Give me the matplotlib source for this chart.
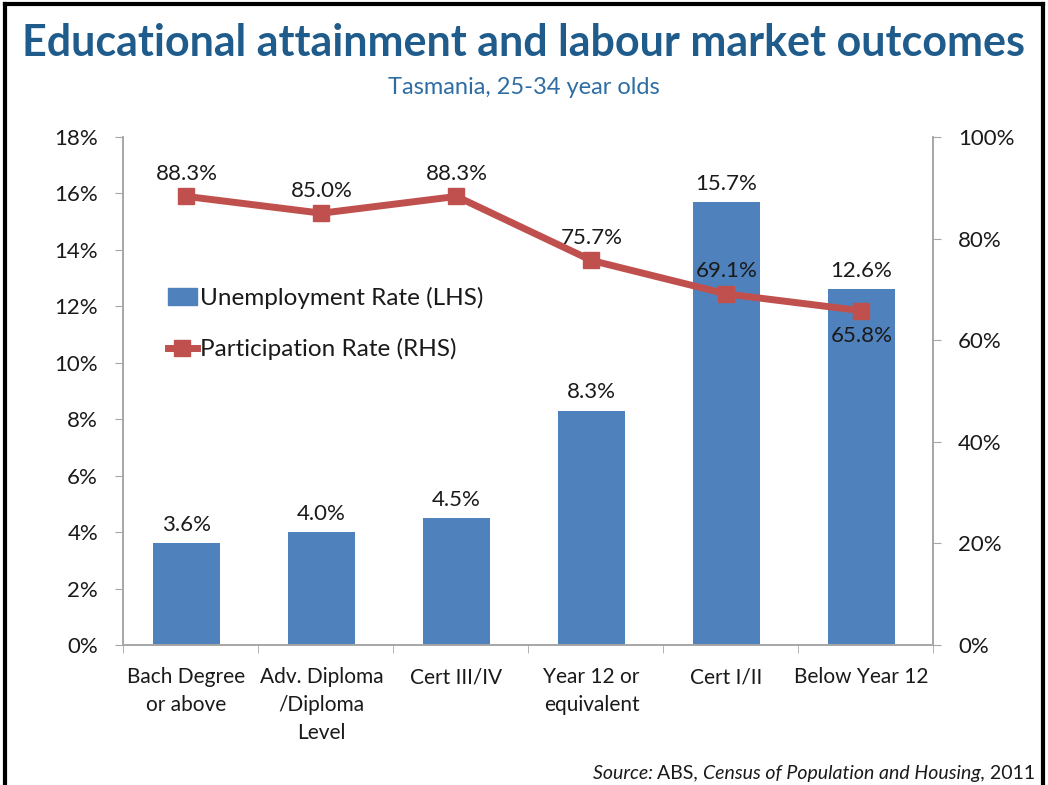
import matplotlib.pyplot as plt
from matplotlib.lines import Line2D
from matplotlib.ticker import FuncFormatter

plt.rcParams['font.family'] = ['Lato', 'DejaVu Sans']

categories = ['Bach Degree\nor above', 'Adv. Diploma\n/Diploma\nLevel', 'Cert III/IV',
              'Year 12 or\nequivalent', 'Cert I/II', 'Below Year 12']
unemployment = [3.6, 4.0, 4.5, 8.3, 15.7, 12.6]
participation = [88.3, 85.0, 88.3, 75.7, 69.1, 65.8]
# label placement for the participation points: above or below the marker
part_label_below = [False, False, False, False, False, True]

bar_color = '#4F81BD'
line_color = '#C0504D'
axis_gray = '#A6A6A6'
title_blue = '#1F5C8B'
text_color = '#1A1A1A'

fig = plt.figure(figsize=(10.48, 7.85), dpi=100)
ax = fig.add_axes([0.1174, 0.1783, 0.7729, 0.6472])
ax2 = ax.twinx()

x = list(range(len(categories)))
ax.bar(x, unemployment, width=0.5, color=bar_color, zorder=2)
ax.set_xlim(-0.47, len(categories) - 0.47)
ax.set_ylim(0, 18)
ax.set_yticks(range(0, 19, 2))
ax.yaxis.set_major_formatter(FuncFormatter(lambda v, p: f'{v:.0f}%'))

ax2.plot(x, participation, color=line_color, lw=5, marker='s', ms=11,
         solid_capstyle='round', zorder=3)
ax2.set_ylim(0, 100)
ax2.set_yticks(range(0, 101, 20))
ax2.yaxis.set_major_formatter(FuncFormatter(lambda v, p: f'{v:.0f}%'))

ax.set_xticks(x)
ax.set_xticklabels(categories, fontsize=15, color=text_color, linespacing=1.5)
ax.set_xticks([i - 0.47 for i in range(len(categories) + 1)], minor=True)
ax.tick_params(axis='x', which='major', length=0, pad=16)
ax.tick_params(axis='x', which='minor', length=6, color=axis_gray, direction='out')
ax.tick_params(axis='y', length=6, color=axis_gray, labelsize=16, labelcolor=text_color, pad=12)
ax2.tick_params(axis='y', length=6, color=axis_gray, labelsize=16, labelcolor=text_color, pad=12)

for a in (ax, ax2):
    a.spines['top'].set_visible(False)
    for s in ('left', 'right', 'bottom'):
        a.spines[s].set_color(axis_gray)
        a.spines[s].set_linewidth(1.2)

for xi, v in zip(x, unemployment):
    ax.annotate(f'{v:.1f}%', (xi, v), xytext=(0, 6), textcoords='offset points',
                ha='center', va='bottom', fontsize=16, color=text_color)

for xi, v, below in zip(x, participation, part_label_below):
    off = (0, -11) if below else (0, 9)
    ax2.annotate(f'{v:.1f}%', (xi, v), xytext=off, textcoords='offset points',
                 ha='center', va='top' if below else 'bottom', fontsize=16,
                 color=text_color, zorder=5)

handles = [plt.Rectangle((0, 0), 1, 1, color=bar_color),
           Line2D([], [], color=line_color, lw=5, marker='s', ms=11)]
ax.legend(handles, ['Unemployment Rate (LHS)', 'Participation Rate (RHS)'],
          loc='upper left', bbox_to_anchor=(0.028, 0.748), frameon=False, fontsize=17.5,
          labelspacing=1.2, handlelength=1.2, handleheight=0.7, handletextpad=0.12,
          labelcolor=text_color)

fig.text(0.5, 0.945, 'Educational attainment and labour market outcomes', ha='center',
         va='center', fontsize=31, fontweight='bold', color=title_blue)
fig.text(0.5, 0.888, 'Tasmania, 25-34 year olds', ha='center', va='center',
         fontsize=17, color='#2E6DA4')

# source line, mixed italic / regular pieces chained right to left
pieces = [(' 2011', 'normal'), ('Census of Population and Housing,', 'italic'),
          ('ABS, ', 'normal'), ('Source: ', 'italic')]
anchor = fig.text(0.988, 0.004, pieces[0][0], ha='right', va='bottom', fontsize=14,
                  style=pieces[0][1], color=text_color)
for txt, st in pieces[1:]:
    anchor = plt.annotate(txt, xy=(0, 0), xycoords=anchor, ha='right', va='bottom',
                          fontsize=14, style=st, color=text_color, annotation_clip=False)

# outer frame (no bottom edge)
for xs, ys in [([0.005, 0.005], [0, 0.995]), ([0.995, 0.995], [0, 0.995]),
               ([0.005, 0.995], [0.995, 0.995])]:
    fig.add_artist(Line2D(xs, ys, color='black', lw=3, transform=fig.transFigure))

fig.savefig('out.png', dpi=100)
